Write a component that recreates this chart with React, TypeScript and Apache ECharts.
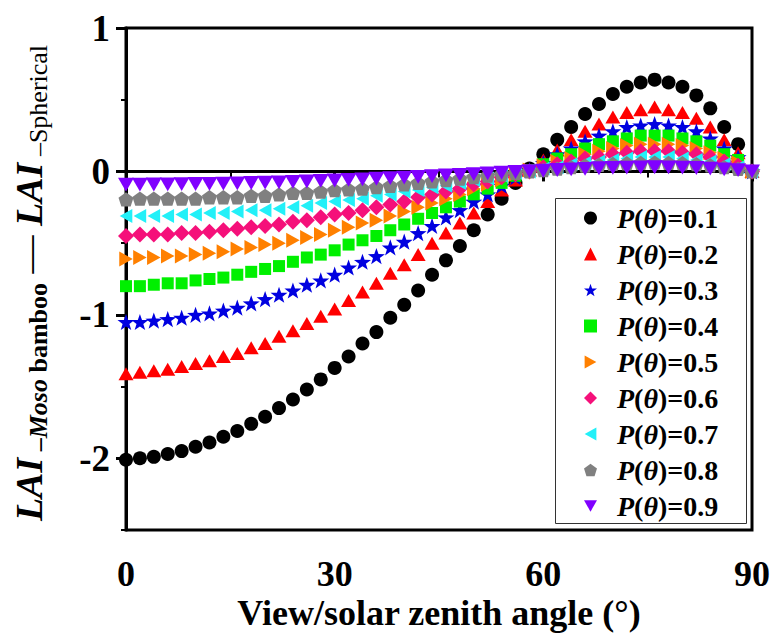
import React, { useEffect, useRef } from "react";
import * as echarts from "echarts";

// View/solar zenith angle (degrees)
const ANGLES = [0, 2, 4, 6, 8, 10, 12, 14, 16, 18, 20, 22, 24, 26, 28, 30, 32, 34, 36, 38, 40, 42, 44, 46, 48, 50, 52, 54, 56, 58, 60, 62, 64, 66, 68, 70, 72, 74, 76, 78, 80, 82, 84, 86, 88, 90];

const P01 = [-2.01, -2.0, -1.99, -1.97, -1.95, -1.92, -1.89, -1.85, -1.81, -1.76, -1.71, -1.65, -1.59, -1.52, -1.45, -1.37, -1.29, -1.2, -1.12, -1.02, -0.93, -0.83, -0.72, -0.62, -0.52, -0.41, -0.3, -0.19, -0.08, 0.02, 0.12, 0.22, 0.31, 0.4, 0.47, 0.54, 0.59, 0.62, 0.64, 0.62, 0.59, 0.53, 0.44, 0.31, 0.19, 0.0];
const P02 = [-1.41, -1.4, -1.39, -1.38, -1.36, -1.34, -1.32, -1.29, -1.27, -1.23, -1.2, -1.15, -1.11, -1.06, -1.01, -0.96, -0.9, -0.84, -0.78, -0.71, -0.65, -0.58, -0.5, -0.43, -0.36, -0.29, -0.21, -0.13, -0.06, 0.01, 0.08, 0.15, 0.22, 0.28, 0.33, 0.38, 0.41, 0.43, 0.45, 0.43, 0.41, 0.37, 0.31, 0.22, 0.13, 0.0];
const P03 = [-1.05, -1.05, -1.04, -1.03, -1.02, -1.0, -0.99, -0.97, -0.95, -0.92, -0.89, -0.86, -0.83, -0.79, -0.76, -0.72, -0.67, -0.63, -0.59, -0.53, -0.49, -0.43, -0.38, -0.32, -0.27, -0.21, -0.16, -0.1, -0.04, 0.01, 0.06, 0.12, 0.16, 0.21, 0.25, 0.28, 0.31, 0.32, 0.33, 0.32, 0.31, 0.28, 0.23, 0.16, 0.1, 0.0];
const P04 = [-0.8, -0.8, -0.79, -0.78, -0.78, -0.76, -0.75, -0.74, -0.72, -0.7, -0.68, -0.66, -0.63, -0.6, -0.58, -0.55, -0.51, -0.48, -0.45, -0.41, -0.37, -0.33, -0.29, -0.25, -0.21, -0.16, -0.12, -0.08, -0.03, 0.01, 0.05, 0.09, 0.12, 0.16, 0.19, 0.21, 0.23, 0.25, 0.25, 0.25, 0.23, 0.21, 0.18, 0.12, 0.08, 0.0];
const P05 = [-0.61, -0.6, -0.6, -0.59, -0.59, -0.58, -0.57, -0.56, -0.54, -0.53, -0.51, -0.5, -0.48, -0.46, -0.44, -0.41, -0.39, -0.36, -0.34, -0.31, -0.28, -0.25, -0.22, -0.19, -0.16, -0.12, -0.09, -0.06, -0.02, 0.01, 0.04, 0.07, 0.09, 0.12, 0.14, 0.16, 0.18, 0.19, 0.19, 0.19, 0.18, 0.16, 0.13, 0.09, 0.06, 0.0];
const P06 = [-0.45, -0.44, -0.44, -0.44, -0.43, -0.43, -0.42, -0.41, -0.4, -0.39, -0.38, -0.37, -0.35, -0.34, -0.32, -0.3, -0.29, -0.27, -0.25, -0.23, -0.21, -0.18, -0.16, -0.14, -0.12, -0.09, -0.07, -0.04, -0.02, 0.0, 0.03, 0.05, 0.07, 0.09, 0.1, 0.12, 0.13, 0.14, 0.14, 0.14, 0.13, 0.12, 0.1, 0.07, 0.04, 0.0];
const P07 = [-0.31, -0.31, -0.31, -0.31, -0.3, -0.3, -0.29, -0.29, -0.28, -0.27, -0.27, -0.26, -0.25, -0.24, -0.22, -0.21, -0.2, -0.19, -0.17, -0.16, -0.14, -0.13, -0.11, -0.1, -0.08, -0.06, -0.05, -0.03, -0.01, 0.0, 0.02, 0.03, 0.05, 0.06, 0.07, 0.08, 0.09, 0.1, 0.1, 0.1, 0.09, 0.08, 0.07, 0.05, 0.03, 0.0];
const P08 = [-0.195, -0.19, -0.19, -0.19, -0.19, -0.19, -0.18, -0.18, -0.18, -0.17, -0.17, -0.16, -0.15, -0.15, -0.14, -0.13, -0.125, -0.12, -0.11, -0.1, -0.09, -0.08, -0.07, -0.06, -0.05, -0.04, -0.03, -0.02, -0.01, 0.0, 0.01, 0.02, 0.03, 0.04, 0.046, 0.052, 0.057, 0.06, 0.062, 0.06, 0.057, 0.051, 0.043, 0.03, 0.018, 0.0];
const P09 = [-0.092, -0.092, -0.091, -0.09, -0.089, -0.088, -0.087, -0.085, -0.083, -0.081, -0.078, -0.076, -0.073, -0.07, -0.066, -0.063, -0.059, -0.055, -0.051, -0.047, -0.043, -0.038, -0.033, -0.028, -0.024, -0.019, -0.014, -0.009, -0.004, 0.001, 0.005, 0.01, 0.014, 0.018, 0.022, 0.025, 0.027, 0.028, 0.029, 0.028, 0.027, 0.024, 0.02, 0.014, 0.009, 0.0];

const SERIES_NAMES = ["P(θ)=0.1", "P(θ)=0.2", "P(θ)=0.3", "P(θ)=0.4", "P(θ)=0.5", "P(θ)=0.6", "P(θ)=0.7", "P(θ)=0.8", "P(θ)=0.9"];
const SERIES_VALUES = [P01, P02, P03, P04, P05, P06, P07, P08, P09];

const X_TICKS = [0, 30, 60, 90];
const Y_MAJOR = [-2, -1, 0, 1];

const FF = '"Liberation Serif", "Times New Roman", serif';

const STAR = "path://M0,-10 L2.35,-3.24 9.51,-3.09 3.8,1.24 5.88,8.09 0,4 -5.88,8.09 -3.8,1.24 -9.51,-3.09 -2.35,-3.24 Z";
const TRI_RIGHT = "path://M0,0 L9,5 L0,10 Z";
const TRI_LEFT = "path://M9,0 L0,5 L9,10 Z";
const TRI_DOWN = "path://M0,0 L10,0 L5,8.66 Z";
const PENTAGON = "path://M5,0 L10,3.63 L8.09,9.51 L1.91,9.51 L0,3.63 Z";

const STYLES = [
  { color: "#000000", symbol: "circle", size: 14 },
  { color: "#FF0000", symbol: "triangle", size: [15, 13] },
  { color: "#0000E0", symbol: STAR, size: 17 },
  { color: "#00F000", symbol: "rect", size: 12 },
  { color: "#FF8000", symbol: TRI_RIGHT, size: 15 },
  { color: "#F5107A", symbol: "diamond", size: [16, 16] },
  { color: "#22F0F8", symbol: TRI_LEFT, size: 14 },
  { color: "#808080", symbol: PENTAGON, size: 15 },
  { color: "#8000FF", symbol: TRI_DOWN, size: 16 },
];

function buildYTitle() {
  const canvas = document.createElement("canvas");
  const ctx = canvas.getContext("2d");
  const pieces = [
    { text: "LAI", size: 38, weight: "bold", style: "italic", dy: 0 },
    { text: " –", size: 26, weight: "bold", style: "normal", dy: 10 },
    { text: "Moso", size: 26, weight: "bold", style: "italic", dy: 10 },
    { text: " bamboo", size: 26, weight: "bold", style: "normal", dy: 10 },
    { text: " — ", size: 38, weight: "normal", style: "normal", dy: 0 },
    { text: "LAI", size: 38, weight: "bold", style: "italic", dy: 0 },
    { text: " –Spherical", size: 26, weight: "normal", style: "normal", dy: 10 },
  ];
  const widths = pieces.map((p) => {
    if (!ctx) return p.text.length * p.size * 0.5;
    ctx.font = `${p.style} ${p.weight} ${p.size}px "Liberation Serif"`;
    return ctx.measureText(p.text).width;
  });
  const total = widths.reduce((a, b) => a + b, 0);
  let cur = -total / 2;
  const children = pieces.map((p, i) => {
    const el = {
      type: "text",
      x: cur,
      y: p.dy,
      style: {
        text: p.text,
        fontSize: p.size,
        fontWeight: p.weight,
        fontStyle: p.style,
        fontFamily: FF,
        fill: "#000",
        align: "left",
        verticalAlign: "middle",
        textAlign: "left",
        textVerticalAlign: "middle",
      },
    };
    cur += widths[i];
    return el;
  });
  return {
    type: "group",
    x: 28.5,
    y: 283,
    rotation: Math.PI / 2,
    children,
  };
}

export default function App() {
  const ref = useRef<HTMLDivElement>(null);

  useEffect(() => {
    document.body.style.margin = "0";
    if (!ref.current) return;
    const chart = echarts.init(ref.current, undefined, { renderer: "svg" });

    const series = SERIES_NAMES.map((name, k) => ({
      name,
      type: "scatter",
      data: ANGLES.map((a, i) => [a, SERIES_VALUES[k][i]]),
      symbol: STYLES[k].symbol,
      symbolSize: STYLES[k].size,
      symbolKeepAspect: true,
      itemStyle: { color: STYLES[k].color, opacity: 1 },
      emphasis: { disabled: true },
      xAxisIndex: 0,
      yAxisIndex: 0,
    }));

    const option = {
      animation: false,
      backgroundColor: "#ffffff",
      grid: {
        left: 126,
        right: 21,
        top: 28,
        bottom: 103,
        containLabel: false,
        outerBoundsMode: "none",
        show: true,
        borderColor: "#000",
        borderWidth: 3,
        backgroundColor: "transparent",
      },
      xAxis: {
        type: "value",
        min: X_TICKS[0],
        max: X_TICKS[X_TICKS.length - 1],
        interval: 30,
        name: "View/solar zenith angle (°)",
        nameLocation: "middle",
        nameGap: 65,
        nameMoveOverlap: false,
        nameTextStyle: { fontFamily: FF, fontWeight: "bold", fontSize: 36, color: "#000" },
        axisLine: { show: true, lineStyle: { color: "#000", width: 3 } },
        axisTick: { show: true, inside: false, length: 10, lineStyle: { color: "#000", width: 3 } },
        minorTick: { show: true, splitNumber: 2, length: 6, lineStyle: { color: "#000", width: 2 } },
        splitLine: { show: false },
        axisLabel: { fontFamily: FF, fontWeight: "bold", fontSize: 36, color: "#000", margin: 26 },
      },
      yAxis: [
        {
          type: "value",
          position: "left",
          min: -2.5,
          max: 1,
          interval: 0.5,
          axisLine: { show: true, lineStyle: { color: "#000", width: 3 } },
          axisTick: { show: true, inside: false, length: 5, lineStyle: { color: "#000", width: 2 } },
          splitLine: { show: false },
          axisLabel: {
            fontFamily: FF,
            fontWeight: "bold",
            fontSize: 37,
            color: "#000",
            margin: 16,
            formatter: (v: number) => (Y_MAJOR.some((m) => Math.abs(m - v) < 1e-9) ? String(Math.round(v)) : ""),
          },
        },
        {
          type: "value",
          position: "left",
          min: -2.5,
          max: 1,
          interval: 0.5,
          axisLine: { show: false },
          axisTick: { show: true, inside: false, length: 10, customValues: Y_MAJOR, lineStyle: { color: "#000", width: 3 } },
          splitLine: { show: false },
          axisLabel: { show: false },
        },
      ],
      legend: {
        show: true,
        orient: "vertical",
        left: 584,
        top: 203,
        padding: 0,
        itemGap: 6,
        itemWidth: 13,
        itemHeight: 13,
        selectedMode: false,
        data: SERIES_NAMES,
        formatter: (name: string) => `{sp|}{i|P}{b|(}{i|θ}{b|)=${name.split("=")[1]}}`,
        textStyle: {
          fontFamily: FF,
          fontSize: 28,
          fontWeight: "bold",
          color: "#000",
          lineHeight: 30,
          rich: {
            sp: { width: 15, lineHeight: 30 },
            i: { fontFamily: FF, fontSize: 28, fontWeight: "bold", fontStyle: "italic", color: "#000", lineHeight: 30 },
            b: { fontFamily: FF, fontSize: 28, fontWeight: "bold", color: "#000", lineHeight: 30 },
          },
        },
      },
      graphic: [
        {
          type: "rect",
          shape: { x: 555.5, y: 198.5, width: 191, height: 325 },
          style: { fill: "rgba(0,0,0,0)", stroke: "#333", lineWidth: 1 },
          silent: true,
        },
        buildYTitle(),
      ],
      series,
    };

    chart.setOption(option as any);
    return () => chart.dispose();
  }, []);

  return <div ref={ref} style={{ position: "fixed", left: 0, top: 0, width: 773, height: 633 }} />;
}
